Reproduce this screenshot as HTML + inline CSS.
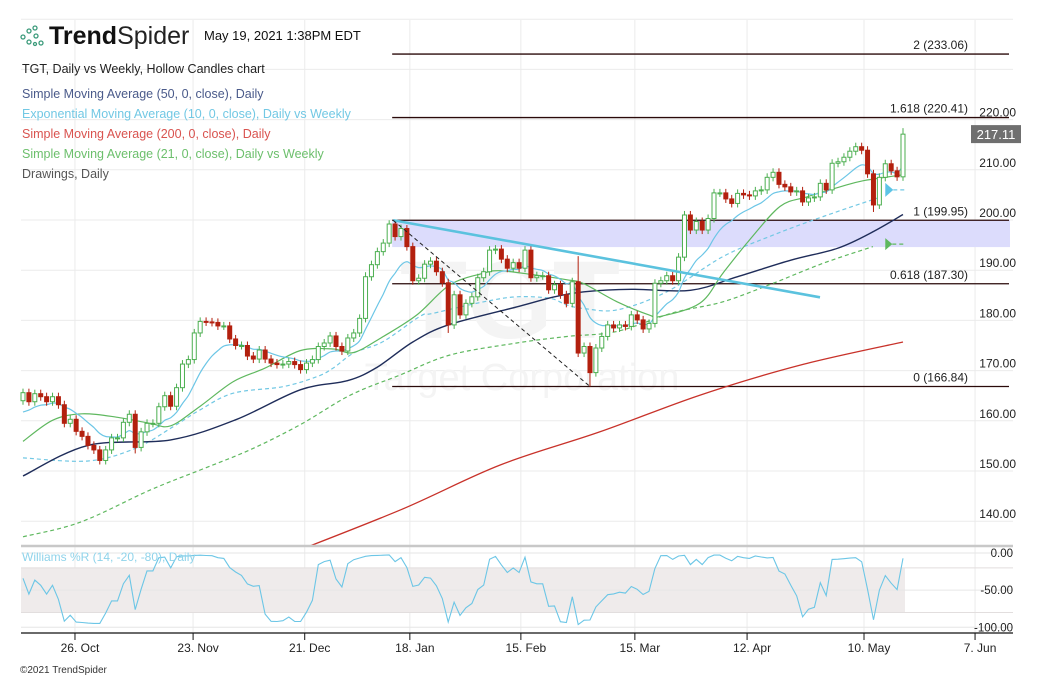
<!DOCTYPE html>
<html><head><meta charset="utf-8"><style>
html,body{margin:0;padding:0;background:#fff;}
svg{display:block;font-family:"Liberation Sans",sans-serif;}
</style></head><body>
<svg id="chart" width="1042" height="679" viewBox="0 0 1042 679" xmlns="http://www.w3.org/2000/svg">
<defs><clipPath id="pclip"><rect x="21" y="20" width="992" height="525"/></clipPath></defs>
<g id="grid"></g>
<g id="bgtext">
 <text x="510" y="338" font-size="110" font-weight="bold" fill="#f4f4f4" text-anchor="middle">TGT</text>
 <text x="522" y="390" font-size="38" fill="#f4f4f4" text-anchor="middle">Target Corporation</text>
</g>
<g id="fib"></g>
<g id="lines" clip-path="url(#pclip)"></g>
<g id="candles"></g>
<g id="draw"></g>
<g id="wr"></g>
<g id="axes"></g>
<g id="hdr">
 <g fill="none" stroke="#3a9a7a" stroke-width="1.3">
  <circle cx="23" cy="37" r="2"/><circle cx="29" cy="31" r="2"/><circle cx="29" cy="42" r="2"/><circle cx="35" cy="28" r="2"/><circle cx="36" cy="36" r="2"/><circle cx="41" cy="43" r="2"/><circle cx="35" cy="44" r="1.5"/>
 </g>
 <text x="49" y="44" font-size="25" fill="#111"><tspan font-weight="bold">Trend</tspan><tspan font-weight="normal" fill="#222">Spider</tspan></text>
 <text x="204" y="40" font-size="13" fill="#111">May 19, 2021 1:38PM EDT</text>
 <text x="22" y="73" font-size="12.5" fill="#222">TGT, Daily vs Weekly, Hollow Candles chart</text>
 <text x="22" y="98" font-size="12.5" fill="#4a5a8a">Simple Moving Average (50, 0, close), Daily</text>
 <text x="22" y="118" font-size="12.5" fill="#72c8e4">Exponential Moving Average (10, 0, close), Daily vs Weekly</text>
 <text x="22" y="138" font-size="12.5" fill="#d9534f">Simple Moving Average (200, 0, close), Daily</text>
 <text x="22" y="158" font-size="12.5" fill="#6cbf6c">Simple Moving Average (21, 0, close), Daily vs Weekly</text>
 <text x="22" y="178" font-size="12.5" fill="#555">Drawings, Daily</text>
 <text x="20" y="673" font-size="10" fill="#333">©2021 TrendSpider</text>
</g>
</svg>
<script>
const closes=[165.6,163.8,165.4,164.8,163.8,164.8,163.2,159.5,160.3,157.9,156.9,155.1,154.2,152.1,154.2,156.6,156.6,159.7,161.3,154.7,157.8,159.5,159.5,162.8,165.0,162.9,166.6,171.3,172.2,177.5,179.8,179.7,179.6,178.9,178.9,176.3,175.0,175.0,172.9,172.3,174.1,172.3,171.5,171.2,171.3,171.8,171.2,170.2,171.5,172.2,174.8,175.5,176.9,174.8,173.9,176.5,177.5,180.4,188.7,191.1,193.7,195.4,199.2,196.7,198.3,194.7,187.9,188.4,191.2,191.8,189.7,187.5,179.1,185.1,181.1,183.4,184.7,188.5,189.7,194.0,194.2,192.2,190.4,191.5,190.4,194.0,188.5,188.9,188.9,186.1,187.1,185.1,183.4,187.7,173.5,174.8,169.6,174.5,176.8,179.1,178.5,179.1,178.8,181.1,180.1,178.3,179.4,187.4,187.9,188.9,187.9,192.6,201.0,198.0,199.7,198.0,200.3,205.4,205.4,204.2,203.3,205.3,205.0,204.8,205.8,206.0,208.5,209.5,207.1,206.6,205.6,205.8,203.6,204.4,204.6,207.3,206.0,211.3,211.6,212.5,213.7,214.6,213.9,209.2,203.0,208.5,211.2,209.8,208.6,217.1];
const firstOpen=164.0;
const priorHigh=168.5, priorLow=160.0;
const highOverrideIdx=[62,94,58,149,65];
const highOverrideVal=[199.95,192.8,189.6,218.3,199.0];
const lowOverrideIdx=[96,72,19,144];
const lowOverrideVal=[166.84,177.5,153.5,201.6];
const sma50Idx=[0,11,25,36,47,55,60,66,72,84,90,95,103,113,121,130,138,144,149];
const sma50Val=[149.0,155.1,156.2,160.2,166.2,168.0,170.7,175.7,179.1,182.8,184.7,185.7,186.2,186.0,188.7,192.0,194.4,197.7,201.1];
const sma21Idx=[0,5,10,16,21.5,25,30,35.6,41,47,52.5,56,61,66.7,72.3,78,80.8,86.4,92,94.8,100.6,106,107.9,114.6,118.5,123,128.2,132.7,138.3,142.2,149];
const sma21Val=[155.9,160.1,161.4,160.7,159.5,159.0,162.9,167.8,170.5,174.0,174.3,173.6,176.8,181.1,187.1,189.4,189.9,189.1,188.1,187.4,183.7,181.1,180.8,183.4,189.4,196.0,202.7,204.6,206.6,207.8,209.0];
const ema10wIdx=[0,11,19,25.4,30,35.6,44,49.8,52.5,56,61,67.2,69.4,78,83.6,89.2,92,94.8,100.6,109,118.5,127,135.5,145];
const ema10wVal=[152.6,152.0,154.5,158.8,162.2,165.5,166.8,168.8,170.5,173.5,175.8,180.8,181.4,183.7,184.7,184.4,183.1,182.4,182.1,185.7,192.7,197.0,200.7,204.5];
const sma21wIdx=[0,9.7,21.5,30,38.4,46.9,55.4,63.8,72.3,83.6,92.1,100.6,110,118.5,127,135.5,143.9];
const sma21wVal=[136.9,139.8,146.2,150.2,154.2,159.2,165.1,169.1,173.1,175.5,176.8,177.8,181.5,183.7,187.4,191.4,194.7];
const sma200Idx=[43,63.8,80.8,97.7,114.6,131.6,149];
const sma200Val=[132.5,142.2,151.2,157.8,165.1,171.1,175.7];
const ema10Seed=160.9;
const fibLabels=["2 (233.06)","1.618 (220.41)","1 (199.95)","0.618 (187.30)","0 (166.84)"];
const fibVals=[233.06,220.41,199.95,187.30,166.84];
const zoneTop=199.95, zoneBottom=194.6;
const priceTicks=[140,150,160,170,180,190,200,210,220];
const gridPrices=[140,150,160,170,180,190,200,210,220,230,240];
const wrTicks=[0,-50,-100];
const wrTickLabels=["0.00","-50.00","-100.00"];
const dateLabels=["26. Oct","23. Nov","21. Dec","18. Jan","15. Feb","15. Mar","12. Apr","10. May","7. Jun"];
const dateIdx=[8.8,28.8,47.7,65.5,84.3,103.6,122.6,142.4,161.2];
const lastPrice=217.11;

const NS="http://www.w3.org/2000/svg";
const X0=23, STEP=5.906;
function xs(i){return X0+i*STEP;}
function ys(p){return 220+(200-p)*5.02;}
function yw(v){return 553+(-v)*0.743;}
function el(tag,attrs,parent){const e=document.createElementNS(NS,tag);for(const k in attrs)e.setAttribute(k,attrs[k]);parent.appendChild(e);return e;}
function smoothPath(pts){
  let d="M"+pts[0][0].toFixed(1)+","+pts[0][1].toFixed(1);
  for(let i=0;i<pts.length-1;i++){
    const p0=pts[i-1]||pts[i],p1=pts[i],p2=pts[i+1],p3=pts[i+2]||p2;
    const c1=[p1[0]+(p2[0]-p0[0])/6,p1[1]+(p2[1]-p0[1])/6];
    const c2=[p2[0]-(p3[0]-p1[0])/6,p2[1]-(p3[1]-p1[1])/6];
    d+="C"+c1[0].toFixed(1)+","+c1[1].toFixed(1)+" "+c2[0].toFixed(1)+","+c2[1].toFixed(1)+" "+p2[0].toFixed(1)+","+p2[1].toFixed(1);
  }
  return d;
}
const grid=document.getElementById('grid');
const axes=document.getElementById('axes');
const fib=document.getElementById('fib');
const lines=document.getElementById('lines');
const cg=document.getElementById('candles');
const draw=document.getElementById('draw');
const wr=document.getElementById('wr');

gridPrices.forEach(p=>{const l=el('line',{x1:21,x2:1013,y1:ys(p),y2:ys(p),stroke:'#ebebeb','stroke-width':1},grid);

});
dateIdx.forEach(i=>{const l=el('line',{x1:xs(i),x2:xs(i),y1:20,y2:632,stroke:'#ebebeb','stroke-width':1},grid);

});

const zone=el('rect',{x:xs(62)+3,y:ys(zoneTop),width:1010-xs(62)-3,height:ys(zoneBottom)-ys(zoneTop),fill:'#dcdcfc'},fib);


fibVals.forEach((v,k)=>{
  const l=el('line',{x1:xs(62)+3,x2:1009,y1:ys(v),y2:ys(v),stroke:'#2a0a0a','stroke-width':1.3},fib);
  
  
  const t=el('text',{x:968,y:ys(v)-5,'font-size':12,fill:'#222','text-anchor':'end'},fib);
  t.textContent=fibLabels[k];
  
  
});

const opens=[],highs=[],lows=[];
closes.forEach((c,i)=>{
  const o=i===0?firstOpen:closes[i-1];
  opens.push(o);
  let h=Math.max(o,c)+0.8,l=Math.min(o,c)-0.8;
  const hi=highOverrideIdx.indexOf(i); if(hi>=0)h=highOverrideVal[hi];
  const li=lowOverrideIdx.indexOf(i); if(li>=0)l=lowOverrideVal[li];
  highs.push(h);lows.push(l);
});
closes.forEach((c,i)=>{
  const o=opens[i],up=c>=o,col=up?'#4caf50':'#b3200e';
  const x=xs(i);
  const g=el('g',{},cg);
  
  
  el('line',{x1:x,x2:x,y1:ys(highs[i]),y2:ys(lows[i]),stroke:col,'stroke-width':1},g);
  const top=ys(Math.max(o,c)),bot=ys(Math.min(o,c));
  el('rect',{x:x-2,y:top,width:4,height:Math.max(1,bot-top),fill:up?'#fff':col,stroke:col,'stroke-width':1},g);
});

function knotLine(idx,val,attrs,name){
  const pts=idx.map((k,j)=>[xs(k),ys(val[j])]);
  const p=el('path',Object.assign({d:smoothPath(pts),fill:'none'},attrs),lines);
  
  
}
knotLine(sma200Idx,sma200Val,{stroke:'#c8322a','stroke-width':1.3},'sma200-line');
knotLine(sma21wIdx,sma21wVal,{stroke:'#5fb85f','stroke-width':1.2,'stroke-dasharray':'4,3'},'sma21-weekly-line');
knotLine(ema10wIdx,ema10wVal,{stroke:'#72c8e4','stroke-width':1.2,'stroke-dasharray':'4,3'},'ema10-weekly-line');
knotLine(sma50Idx,sma50Val,{stroke:'#1f2d5a','stroke-width':1.4},'sma50-line');
knotLine(sma21Idx,sma21Val,{stroke:'#5fb85f','stroke-width':1.2},'sma21-line');
const ema=[];let e=ema10Seed;const a=2/11;
closes.forEach(c=>{e=e+a*(c-e);ema.push(e);});
const ep=el('path',{d:smoothPath(ema.map((v,i)=>[xs(i),ys(v)])),fill:'none',stroke:'#6cc6e6','stroke-width':1.2},lines);


const lw=ema10wVal[ema10wVal.length-1], ls=sma21wVal[sma21wVal.length-1];
const mk1=el('path',{d:`M${xs(146)},${ys(lw+1.5)-7} L${xs(146)+8},${ys(lw+1.5)} L${xs(146)},${ys(lw+1.5)+7}Z`,fill:'#5cc4e6'},draw);


const d1=el('line',{x1:xs(146)+8,x2:xs(149)+2,y1:ys(lw+1.5),y2:ys(lw+1.5),stroke:'#72c8e4','stroke-dasharray':'4,3','stroke-width':1.2},draw);


const mk2=el('path',{d:`M${xs(146)},${ys(ls+0.5)-6} L${xs(146)+7},${ys(ls+0.5)} L${xs(146)},${ys(ls+0.5)+6}Z`,fill:'#5fb85f'},draw);


const d2=el('line',{x1:xs(146)+7,x2:xs(149)+2,y1:ys(ls+0.5),y2:ys(ls+0.5),stroke:'#5fb85f','stroke-dasharray':'4,3','stroke-width':1.2},draw);



const tl=el('line',{x1:xs(62)+4,y1:ys(199.95),x2:820,y2:ys(184.6),stroke:'#5bc2de','stroke-width':2.6},draw);


const dl=el('line',{x1:xs(62)+4,y1:ys(199.95),x2:xs(96),y2:ys(166.84),stroke:'#222','stroke-width':1,'stroke-dasharray':'4,3'},draw);



const band=el('rect',{x:21,y:yw(-20),width:xs(149)+2-21,height:yw(-80)-yw(-20),fill:'#efebeb'},wr);


[0,-20,-50,-80,-100].forEach(v=>{const l=el('line',{x1:21,x2:1013,y1:yw(v),y2:yw(v),stroke:(v===-20||v===-80)?'#e2dede':'#e6e6e6','stroke-width':1},wr);

});
const wrv=closes.map((c,i)=>{const s=i-13;let hh=-1e9,ll=1e9;if(s<0){hh=priorHigh;ll=priorLow;}for(let k=Math.max(0,s);k<=i;k++){hh=Math.max(hh,highs[k]);ll=Math.min(ll,lows[k]);}return hh===ll?-50:(hh-c)/(hh-ll)*-100;});
const wp=el('polyline',{points:wrv.map((v,i)=>xs(i).toFixed(1)+','+yw(v).toFixed(1)).join(' '),fill:'none',stroke:'#6cc6e6','stroke-width':1.1},wr);


const wt=el('text',{x:22,y:561,'font-size':12,fill:'#8fd3ea'},wr);
wt.textContent='Williams %R (14, -20, -80), Daily';


wrTicks.forEach((v,k)=>{const t=el('text',{x:1013,y:yw(v)+4,'font-size':11.5,fill:'#222','text-anchor':'end'},axes);
t.textContent=wrTickLabels[k];

});

const sep=el('line',{x1:21,x2:1013,y1:546,y2:546,stroke:'#c8c8c8','stroke-width':2.5},axes);


const xa=el('line',{x1:21,x2:1013,y1:633,y2:633,stroke:'#111','stroke-width':1.3},axes);


dateLabels.forEach((lab,k)=>{
  const x=xs(dateIdx[k]);
  const tk=el('line',{x1:x,x2:x,y1:633,y2:640,stroke:'#111','stroke-width':1},axes);
  
  
  const t=el('text',{x:x+5,y:652,'font-size':12,fill:'#222','text-anchor':'middle'},axes);
  t.textContent=lab;
  
  
});
priceTicks.forEach(p=>{const t=el('text',{x:1016,y:ys(p)-3,'font-size':12,fill:'#222','text-anchor':'end'},axes);
t.textContent=p.toFixed(2);

});
const pb=el('rect',{x:971,y:ys(lastPrice)-9,width:50,height:18,fill:'#6f6f6f'},axes);


const pt=el('text',{x:996,y:ys(lastPrice)+5,'font-size':13,fill:'#fff','text-anchor':'middle'},axes);
pt.textContent=lastPrice.toFixed(2);


</script>
</body></html>
